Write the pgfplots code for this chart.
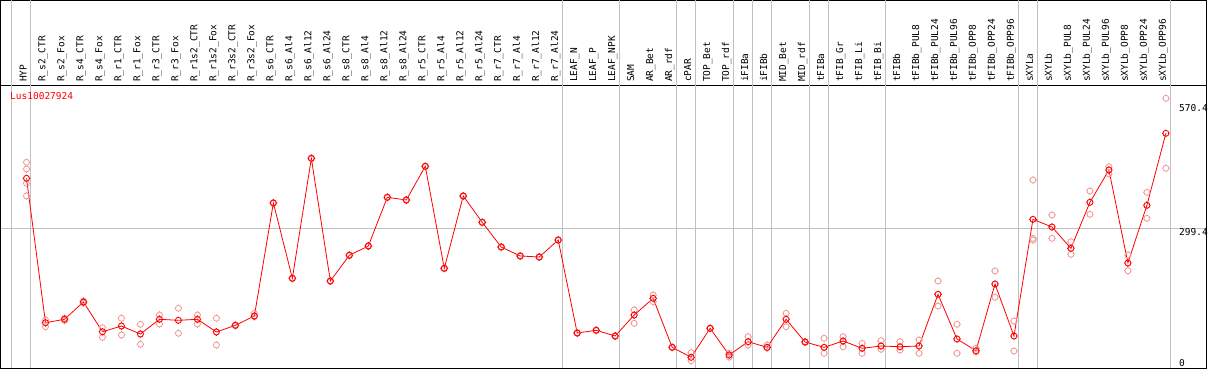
\documentclass[border=0pt]{standalone}
\usepackage{fontspec}
\setmainfont{DejaVu Sans Mono}
\setmonofont{DejaVu Sans Mono}
\usepackage{pgfplots}
\pgfplotsset{compat=1.18}
\usepackage{pgfplotstable}

\definecolor{gridgray}{RGB}{192,192,192}
\definecolor{reppink}{RGB}{240,150,150}

\pgfdeclareplotmark{ringstub}{%
  \pgfpathcircle{\pgfpointorigin}{\pgfplotmarksize}%
  \pgfpathmoveto{\pgfpoint{0pt}{\pgfplotmarksize}}\pgfpathlineto{\pgfpoint{0pt}{\pgfplotmarksize+0.8pt}}%
  \pgfpathmoveto{\pgfpoint{0pt}{-\pgfplotmarksize}}\pgfpathlineto{\pgfpoint{0pt}{-\pgfplotmarksize-0.8pt}}%
  \pgfpathmoveto{\pgfpoint{\pgfplotmarksize}{0pt}}\pgfpathlineto{\pgfpoint{\pgfplotmarksize+0.8pt}{0pt}}%
  \pgfpathmoveto{\pgfpoint{-\pgfplotmarksize}{0pt}}\pgfpathlineto{\pgfpoint{-\pgfplotmarksize-0.8pt}{0pt}}%
  \pgfusepathqstroke}

\newcommand{\lbl}{\fontsize{9.5}{10}\selectfont}

\pgfplotstableread{
x y
0 409.0
1 95.2
2 102.6
3 140.2
4 75.6
5 88.0
6 70.6
7 102.6
8 100.4
9 102.6
10 75.0
11 89.5
12 109.8
13 355.4
14 191.7
15 452.5
16 185.8
17 241.7
18 261.9
19 367.7
20 361.9
21 435.1
22 213.4
23 370.6
24 313.4
25 259.7
26 240.2
27 238.0
28 274.9
29 72.8
30 78.7
31 66.3
32 111.9
33 148.2
34 41.7
35 20.0
36 83.0
37 25.0
38 53.9
39 41.7
40 102.6
41 53.2
42 41.7
43 55.4
44 39.6
45 44.6
46 43.0
47 44.6
48 156.9
49 59.8
50 34.3
51 179.3
52 66.3
53 319.9
54 303.2
55 256.9
56 356.9
57 427.1
58 225.0
59 350.4
60 506.8
}\means

\pgfplotstableread{
x y
0 443.8
0 429.3
0 398.2
0 370.6
1 101.1
1 86.5
2 105.1
2 100.0
3 142.4
3 138.0
4 84.3
4 63.5
5 104.8
5 68.5
6 91.7
6 48.3
7 111.9
7 92.4
8 126.5
8 72.2
9 111.9
9 92.4
10 104.8
10 46.7
11 90.5
11 88.5
12 115.6
12 108.2
13 356.2
13 354.6
14 192.5
14 190.9
15 453.3
15 451.7
16 186.6
16 185.0
17 242.5
17 240.9
18 262.7
18 261.1
19 368.5
19 366.9
20 362.7
20 361.1
21 435.9
21 434.3
22 214.2
22 212.6
23 371.4
23 369.8
24 314.2
24 312.6
25 260.5
25 258.9
26 241.0
26 239.4
27 238.8
27 237.2
28 275.7
28 274.1
29 73.6
29 72.0
30 79.5
30 77.9
31 67.1
31 65.5
32 122.8
32 93.9
33 155.4
33 140.8
34 42.5
34 40.9
35 30.0
35 12.6
36 83.8
36 82.2
37 28.7
37 20.6
38 64.8
38 46.7
39 46.7
39 40.2
40 115.6
40 86.5
41 54.0
41 52.4
42 61.3
42 28.7
43 64.8
43 43.0
44 50.4
44 28.7
45 56.1
45 37.4
46 53.9
46 35.9
47 57.6
47 28.7
48 185.8
48 131.5
49 91.7
49 28.7
50 39.6
50 31.5
51 207.6
51 150.4
52 98.9
52 33.7
53 405.3
53 278.6
53 274.9
54 329.3
54 278.6
55 271.2
55 243.9
56 381.4
56 330.8
57 434.3
57 418.4
58 242.3
58 208.2
59 378.6
59 322.1
60 582.9
60 430.8
}\reps

\begin{document}
\begin{tikzpicture}
\useasboundingbox (0,0) rectangle (1209pt,370pt);
% plot area
\begin{axis}[
  at={(1pt,1.3pt)}, anchor=south west, scale only axis,
  width=1205.7pt, height=283pt,
  xmin=-1.343, xmax=62.15, ymin=-4.78, ymax=610.3,
  axis line style={black, line width=1pt},
  xtick={-0.774,0.226,28.226,31.226,34.226,35.226,37.226,38.226,39.226,41.226,42.226,45.226,52.226,53.226,60.226},
  xticklabel pos=upper, xticklabel=\empty, xmajorgrids,
  ytick={299.4}, yticklabels={299.4}, ymajorgrids,
  extra y ticks={570.4}, extra y tick labels={570.4}, extra y tick style={grid=none},
  yticklabel pos=right,
  yticklabel style={anchor=north west, inner sep=0pt, xshift=-27.7pt, font=\lbl, text=black},
  major grid style={gridgray, line width=0.8pt},
  major tick length=0pt,
  clip=false,
]
\addplot[only marks, mark=ringstub, mark size=3pt, color=reppink, mark options={line width=0.8pt}] table {\reps};
\addplot[color=red, line width=0.8pt, mark=ringstub, mark size=3pt, mark options={line width=0.9pt}] table {\means};
\node[anchor=base west, inner sep=0pt, font=\lbl, text=black] at (axis cs:62.15,0) [xshift=-27.7pt] {0};
\node[anchor=base west, inner sep=0pt, font=\lbl, text=red] at (axis cs:-1.343,580.7) [xshift=9pt] {Lus10027924};
\end{axis}
% header
\begin{axis}[
  at={(1pt,284.3pt)}, anchor=south west, scale only axis,
  width=1205.7pt, height=85.2pt,
  xmin=-1.343, xmax=62.15, ymin=0, ymax=1,
  ytick=\empty,
  axis line style={black, line width=1pt},
  xtick={0,...,60},
  xticklabels={HYP,R\_s2\_CTR,R\_s2\_Fox,R\_s4\_CTR,R\_s4\_Fox,R\_r1\_CTR,R\_r1\_Fox,R\_r3\_CTR,R\_r3\_Fox,R\_r1s2\_CTR,R\_r1s2\_Fox,R\_r3s2\_CTR,R\_r3s2\_Fox,R\_s6\_CTR,R\_s6\_Al4,R\_s6\_Al12,R\_s6\_Al24,R\_s8\_CTR,R\_s8\_Al4,R\_s8\_Al12,R\_s8\_Al24,R\_r5\_CTR,R\_r5\_Al4,R\_r5\_Al12,R\_r5\_Al24,R\_r7\_CTR,R\_r7\_Al4,R\_r7\_Al12,R\_r7\_Al24,LEAF\_N,LEAF\_P,LEAF\_NPK,SAM,AR\_Bet,AR\_rdf,cPAR,TOP\_Bet,TOP\_rdf,iFIBa,iFIBb,MID\_Bet,MID\_rdf,tFIBa,tFIB\_Gr,tFIB\_Li,tFIB\_Bi,tFIBb,tFIBb\_PUL8,tFIBb\_PUL24,tFIBb\_PUL96,tFIBb\_OPP8,tFIBb\_OPP24,tFIBb\_OPP96,sXYLa,sXYLb,sXYLb\_PUL8,sXYLb\_PUL24,sXYLb\_PUL96,sXYLb\_OPP8,sXYLb\_OPP24,sXYLb\_OPP96},
  xticklabel style={rotate=90, anchor=base west, inner xsep=3pt, inner ysep=0pt, font=\lbl, text=black, xshift=0.5pt},
  major tick length=0pt,
  extra x ticks={-0.774,0.226,28.226,31.226,34.226,35.226,37.226,38.226,39.226,41.226,42.226,45.226,52.226,53.226,60.226},
  extra x tick labels={}, extra x tick style={grid=major},
  major grid style={gridgray, line width=0.8pt},
]
\end{axis}
\end{tikzpicture}
\end{document}
